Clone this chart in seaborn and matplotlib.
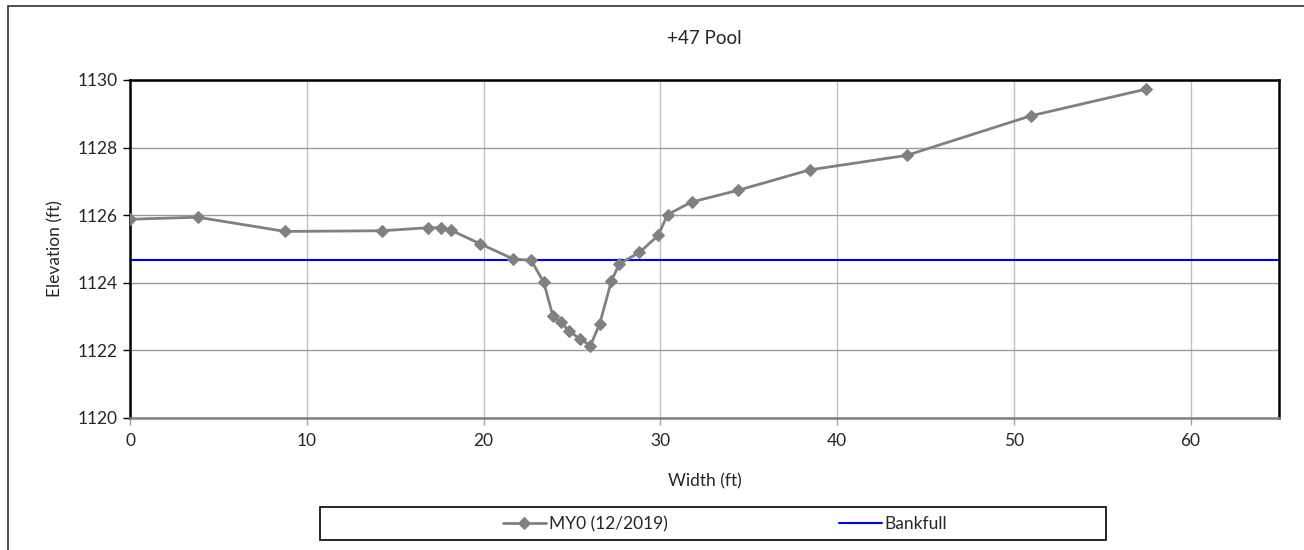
import matplotlib
matplotlib.use('Agg')
import matplotlib.pyplot as plt
import seaborn as sns
from matplotlib.patches import Rectangle
from pandas import DataFrame

# cross-section survey, MY0 (12/2019)
width_ft = [0.0, 3.83, 8.78, 14.27, 16.88, 17.62, 18.14, 19.78, 21.66, 22.70,
            23.41, 23.92, 24.37, 24.86, 25.44, 26.04, 26.57, 27.23, 27.68, 28.82,
            29.88, 30.41, 31.77, 34.42, 38.44, 43.94, 50.96, 57.48]
elevation_ft = [1125.88, 1125.94, 1125.52, 1125.54, 1125.63, 1125.63, 1125.56, 1125.16, 1124.71, 1124.66,
                1124.01, 1123.02, 1122.83, 1122.56, 1122.35, 1122.14, 1122.78, 1124.05, 1124.56, 1124.90,
                1125.40, 1126.02, 1126.39, 1126.74, 1127.34, 1127.77, 1128.94, 1129.73]
bankfull_ft = 1124.67

x_ticks = [0, 10, 20, 30, 40, 50, 60]
y_ticks = [1120, 1122, 1124, 1126, 1128, 1130]

sns.set_style('white')
plt.rcParams['font.family'] = ['Lato', 'DejaVu Sans']

W, H = 1304, 550
fig = plt.figure(figsize=(W / 100, H / 100), dpi=100)
ax = fig.add_axes([130 / W, 1 - 418 / H, (1279 - 130) / W, (418 - 80) / H])

# gridlines
for x in x_ticks:
    ax.axvline(x, color='#c0c0c0', lw=1.0, zorder=0)
for y in y_ticks:
    ax.axhline(y, color='#9a9a9a', lw=1.0, zorder=0)

survey = DataFrame({'Width': width_ft, 'Elevation': elevation_ft})
sns.lineplot(data=survey, x='Width', y='Elevation', ax=ax, sort=False,
             color='#808080', lw=2.0, marker='D', markersize=6.5,
             markeredgecolor='#808080', label='MY0 (12/2019)', legend=False, zorder=3)
bank = ax.axhline(bankfull_ft, color='#0000ff', lw=1.5, zorder=2, label='Bankfull')

ax.set_xlim(0, 65)
ax.set_ylim(1120, 1130)
ax.set_xticks(x_ticks)
ax.set_yticks(y_ticks)
ax.tick_params(axis='y', direction='out', length=5, width=1, color='black', labelsize=12.5, pad=4, left=True)
ax.tick_params(axis='x', direction='out', length=5, width=1, color='#a0a0a0', labelsize=12.5, pad=6, bottom=True)

for side in ['left', 'top', 'right']:
    ax.spines[side].set_color('black')
    ax.spines[side].set_linewidth(1.8)
ax.spines['bottom'].set_color('#808080')
ax.spines['bottom'].set_linewidth(1.8)

ax.set_title('+47 Pool', fontsize=13.5, pad=26)
ax.set_xlabel('Width (ft)', fontsize=12.5, labelpad=17)
ax.set_ylabel('Elevation (ft)', fontsize=12.5, labelpad=10)

# outer chart frame
fig.patches.append(Rectangle((8 / W, -0.1), 1.2, 1.1 - 6 / H, transform=fig.transFigure,
                             fill=False, edgecolor='#303030', lw=1.2))

# legend box
fig.patches.append(Rectangle((320 / W, 1 - 540 / H), (1106 - 320) / W, 33 / H,
                             transform=fig.transFigure, fill=False, edgecolor='black', lw=1.2))
survey_line = [l for l in ax.get_lines() if l.get_label() == 'MY0 (12/2019)'][0]
fig.legend([survey_line], ['MY0 (12/2019)'], loc='center left', frameon=False,
           bbox_to_anchor=(494 / W, 1 - 524 / H), fontsize=12.5, handlelength=2.5,
           handletextpad=0.15, borderpad=0)
fig.legend([bank], ['Bankfull'], loc='center left', frameon=False,
           bbox_to_anchor=(830 / W, 1 - 524 / H), fontsize=12.5, handlelength=2.5,
           handletextpad=0.15, borderpad=0)

fig.savefig('out.png', dpi=100)
